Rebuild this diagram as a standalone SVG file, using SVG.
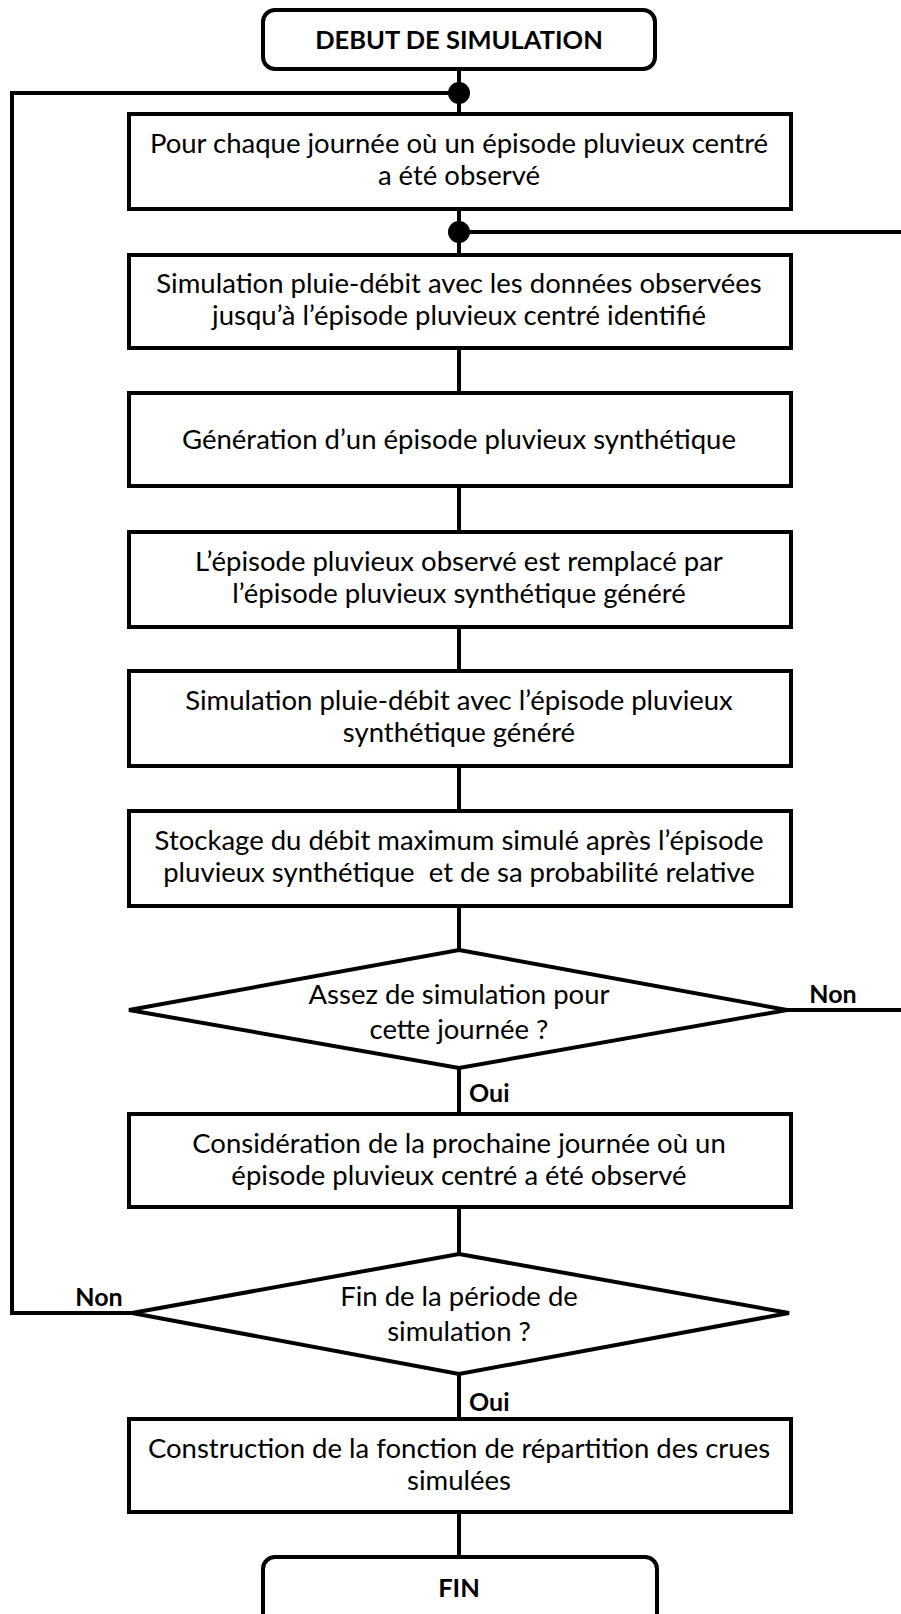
<svg xmlns="http://www.w3.org/2000/svg" width="901" height="1614" viewBox="0 0 901 1614">
  <style>
    .box { fill: #fff; stroke: #000; stroke-width: 4; }
    .term { fill: #fff; stroke: #000; stroke-width: 4; }
    .wire { fill: none; stroke: #000; stroke-width: 4; stroke-linejoin: miter; }
    .dot { fill: #000; }
    text { font-family: Lato, "Liberation Sans", sans-serif; font-size: 27.5px; fill: #000; text-anchor: middle; }
    .b { font-weight: bold; font-size: 25.5px; }
    .lbl { font-weight: bold; font-size: 25px; }
    .start { text-anchor: start; }
  </style>
  <rect width="901" height="1614" fill="#fff"/>

  <g id="connectors">
    <!-- main vertical spine -->
    <line class="wire" x1="459" y1="69" x2="459" y2="1557"/>
    <!-- loop back from "Fin de la période" (Non) to the top junction -->
    <polyline class="wire" points="132,1313 12,1313 12,93 459,93"/>
    <!-- loop back from "Assez de simulation" (Non) to the second junction -->
    <polyline class="wire" points="787,1010 905,1010 905,232 459,232"/>
    <circle class="dot" cx="459" cy="93" r="11"/>
    <circle class="dot" cx="459" cy="232" r="11"/>
    <text class="lbl" x="833" y="1003">Non</text>
    <text class="lbl start" x="469" y="1102">Oui</text>
    <text class="lbl" x="99" y="1306">Non</text>
    <text class="lbl start" x="469" y="1411">Oui</text>
  </g>

  <g id="start">
    <rect class="term" x="263" y="10" width="392" height="59" rx="12"/>
    <text class="b" x="459" y="49">DEBUT DE SIMULATION</text>
  </g>

  <g id="each-day">
    <rect class="box" x="129" y="114" width="662" height="95"/>
    <text x="459" y="153">Pour chaque journée où un épisode pluvieux centré</text>
    <text x="459" y="185">a été observé</text>
  </g>

  <g id="sim-observed">
    <rect class="box" x="129" y="255" width="662" height="93"/>
    <text x="459" y="293">Simulation pluie-débit avec les données observées</text>
    <text x="459" y="325">jusqu’à l’épisode pluvieux centré identifié</text>
  </g>

  <g id="generation">
    <rect class="box" x="129" y="393" width="662" height="93"/>
    <text x="459" y="449">Génération d’un épisode pluvieux synthétique</text>
  </g>

  <g id="replacement">
    <rect class="box" x="129" y="532" width="662" height="95"/>
    <text x="459" y="571">L’épisode pluvieux observé est remplacé par</text>
    <text x="459" y="603">l’épisode pluvieux synthétique généré</text>
  </g>

  <g id="sim-synthetic">
    <rect class="box" x="129" y="671" width="662" height="95"/>
    <text x="459" y="710">Simulation pluie-débit avec l’épisode pluvieux</text>
    <text x="459" y="742">synthétique généré</text>
  </g>

  <g id="storage">
    <rect class="box" x="129" y="811" width="662" height="95"/>
    <text x="459" y="850">Stockage du débit maximum simulé après l’épisode</text>
    <text x="459" y="882" xml:space="preserve">pluvieux synthétique  et de sa probabilité relative</text>
  </g>

  <g id="enough-sims">
    <polygon class="box" points="459,950 787,1010 459,1068 129,1010"/>
    <text x="459" y="1004">Assez de simulation pour</text>
    <text x="459" y="1039">cette journée ?</text>
  </g>

  <g id="next-day">
    <rect class="box" x="129" y="1114" width="662" height="93"/>
    <text x="459" y="1153">Considération de la prochaine journée où un</text>
    <text x="459" y="1185">épisode pluvieux centré a été observé</text>
  </g>

  <g id="end-period">
    <polygon class="box" points="459,1254 789,1313 459,1374 132,1313"/>
    <text x="459" y="1306">Fin de la période de</text>
    <text x="459" y="1341">simulation ?</text>
  </g>

  <g id="distribution">
    <rect class="box" x="129" y="1419" width="662" height="93"/>
    <text x="459" y="1458">Construction de la fonction de répartition des crues</text>
    <text x="459" y="1490">simulées</text>
  </g>

  <g id="end">
    <rect class="term" x="263" y="1557" width="394" height="80" rx="12"/>
    <text class="b" x="459" y="1597">FIN</text>
  </g>
</svg>
